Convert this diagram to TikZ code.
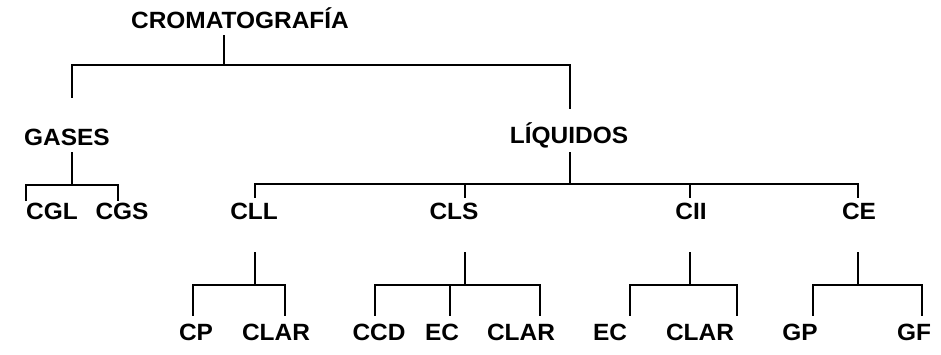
\documentclass[tikz,border=0pt]{standalone}
\usepackage{fontspec}
\setmainfont{Liberation Sans}
\begin{document}
\begin{tikzpicture}[x=1pt,y=-1pt,
  lbl/.style={font=\fontsize{23.5}{23.5}\selectfont\bfseries, xscale=1.04,
    inner sep=0pt, text height=16.8pt, text depth=0pt, anchor=center},
  br/.style={line width=1.8pt, line cap=rect, line join=miter}]
\useasboundingbox (0,0) rectangle (941,355);

% labels
\node[lbl] (root) at (240,20) {CROMATOGRAFÍA};
\node[lbl] (gas)  at (67,137) {GASES};
\node[lbl] (liq)  at (569,135) {LÍQUIDOS};
\node[lbl] (cgl)  at (52,211) {CGL};
\node[lbl] (cgs)  at (122,211) {CGS};
\node[lbl] (cll)  at (254,211) {CLL};
\node[lbl] (cls)  at (454,211) {CLS};
\node[lbl] (cii)  at (691,211) {CII};
\node[lbl] (ce)   at (859,211) {CE};
\node[lbl] (cp)   at (196,332) {CP};
\node[lbl] (clar1) at (276,332) {CLAR};
\node[lbl] (ccd)  at (379,332) {CCD};
\node[lbl] (ec1)  at (442,332) {EC};
\node[lbl] (clar2) at (521,332) {CLAR};
\node[lbl] (ec2)  at (610,332) {EC};
\node[lbl] (clar3) at (700,332) {CLAR};
\node[lbl] (gp)   at (800,332) {GP};
\node[lbl] (gf)   at (914,332) {GF};

% branch points
\coordinate (r0) at (224,36);  \coordinate (r1) at (224,65);
\coordinate (ra) at (72,97);   \coordinate (rb) at (570,108);
\coordinate (g0) at (72,153);  \coordinate (g1) at (72,185);
\coordinate (ga) at (26,200);  \coordinate (gb) at (118,200);
\coordinate (l0) at (570,153); \coordinate (l1) at (570,184);
\coordinate (la) at (255,197); \coordinate (lb) at (465,197);
\coordinate (lc) at (690,197); \coordinate (ld) at (858,197);
\coordinate (c0) at (255,253); \coordinate (c1) at (255,285);
\coordinate (ca) at (193,315); \coordinate (cb) at (285,315);
\coordinate (s0) at (465,253); \coordinate (s1) at (465,285);
\coordinate (sa) at (375,315); \coordinate (sb) at (450,315); \coordinate (sc) at (540,315);
\coordinate (i0) at (690,253); \coordinate (i1) at (690,285);
\coordinate (ia) at (630,315); \coordinate (ib) at (737,315);
\coordinate (e0) at (858,253); \coordinate (e1) at (858,285);
\coordinate (ea) at (813,315); \coordinate (eb) at (922,315);

% brackets
\draw[br] (r0) -- (r1);
\draw[br] (ra) |- (r1) -| (rb);
\draw[br] (g0) -- (g1);
\draw[br] (ga) |- (g1) -| (gb);
\draw[br] (l0) -- (l1);
\draw[br] (la) |- (l1) -| (ld);
\draw[br] (lb) -- (lb |- l1);
\draw[br] (lc) -- (lc |- l1);
\draw[br] (c0) -- (c1);
\draw[br] (ca) |- (c1) -| (cb);
\draw[br] (s0) -- (s1);
\draw[br] (sa) |- (s1) -| (sc);
\draw[br] (sb) -- (sb |- s1);
\draw[br] (i0) -- (i1);
\draw[br] (ia) |- (i1) -| (ib);
\draw[br] (e0) -- (e1);
\draw[br] (ea) |- (e1) -| (eb);
\end{tikzpicture}
\end{document}
